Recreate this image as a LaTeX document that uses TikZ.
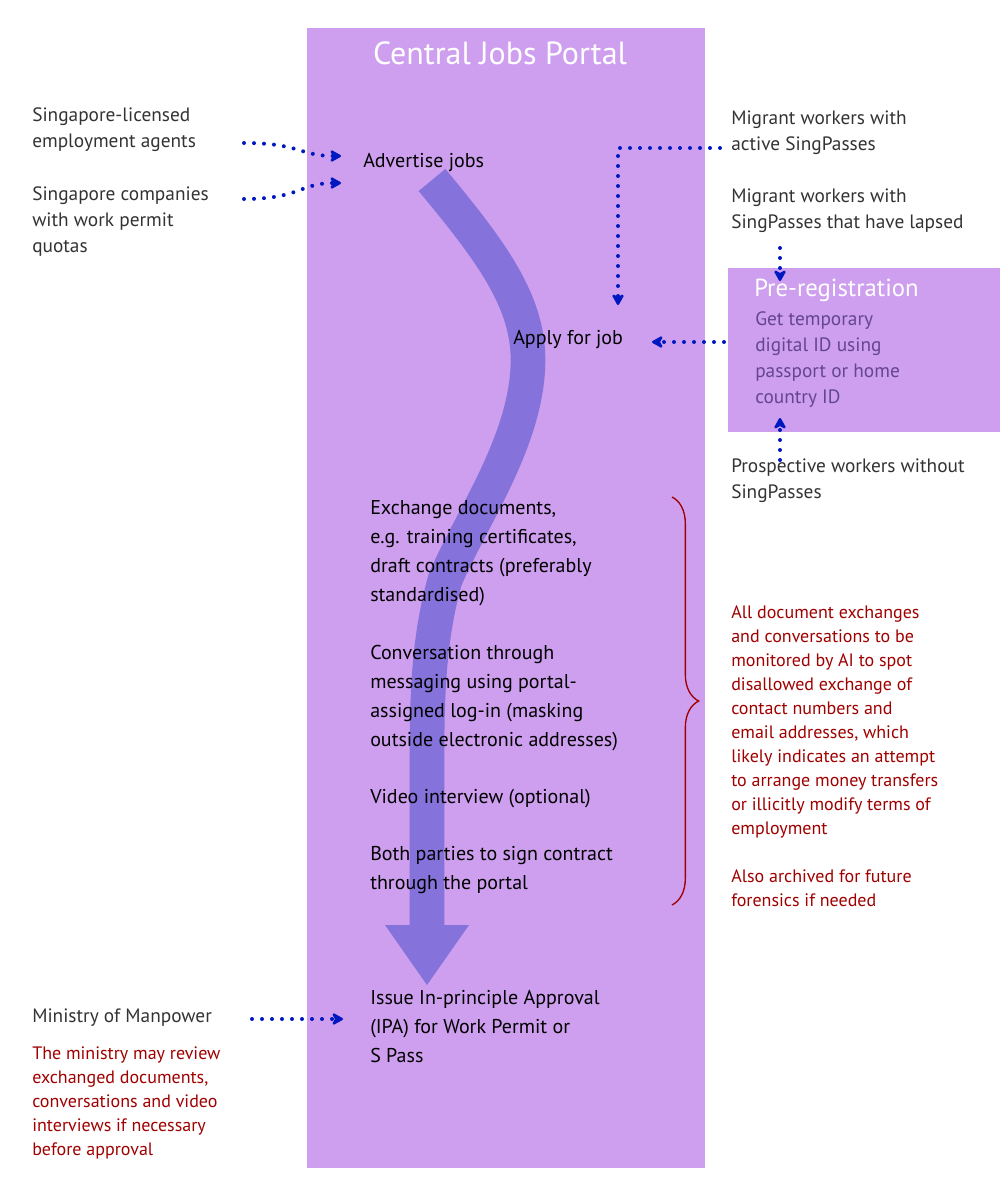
\documentclass[tikz,border=0pt]{standalone}
\usepackage{fontspec}
\setmainfont{PT Sans}
\usetikzlibrary{arrows.meta,decorations.pathreplacing}
\definecolor{portal}{RGB}{206,159,239}
\definecolor{band}{RGB}{133,115,219}
\definecolor{dotblue}{RGB}{0,24,192}
\definecolor{grayt}{RGB}{51,51,51}
\definecolor{redt}{RGB}{160,0,0}
\definecolor{pret}{RGB}{100,70,140}
\begin{document}
\begin{tikzpicture}[x=0.75pt,y=-0.75pt,
  dots/.style={dotblue,line width=3pt,line cap=round,dash pattern=on 0pt off 7.5pt,
     -{Stealth[length=10pt,width=11pt,inset=3pt,line cap=butt,round=false]}},
  body/.style={anchor=north west,inner sep=0pt,align=left,font=\fontsize{15}{21.75}\selectfont,text=black},
  side/.style={anchor=north west,inner sep=0pt,align=left,font=\fontsize{14.5}{19.5}\selectfont,text=grayt},
  red/.style={anchor=north west,inner sep=0pt,align=left,font=\fontsize{13.5}{18}\selectfont,text=redt}]
\useasboundingbox (0,0) rectangle (1000,1200);
\fill[portal] (307,28) rectangle (705,1168);
\fill[portal] (728,268) rectangle (1000,432);
% flow band
\draw[band,line width=26pt] (432,180) .. controls (490,250) and (528,300) .. (528,360)
  .. controls (528,440) and (470,520) .. (445,580)
  .. controls (428,640) and (427,700) .. (427,760) -- (427,926);
\fill[band] (385,925) -- (469,925) -- (427,985) -- cycle;
\node[font=\fontsize{24}{28}\selectfont,text=white] (title) at (500,53) {Central Jobs Portal};
\node[body] (adv) at (363,153) {Advertise jobs};
\node[body] (apply) at (513,330) {Apply for job};
\node[body] (exch) at (370,500) {Exchange documents,\\e.g. training certificates,\\draft contracts (preferably\\standardised)};
\node[body] (conv) at (370,645) {Conversation through\\messaging using portal-\\assigned log-in (masking\\outside electronic addresses)};
\node[body] (video) at (370,789) {Video interview (optional)};
\node[body] (sign) at (370,846) {Both parties to sign contract\\through the portal};
\node[body] (ipa) at (370,990) {Issue In-principle Approval\\(IPA) for Work Permit or\\S Pass};
\node[side] (agents) at (32,107) {Singapore-licensed\\employment agents};
\node[side] (comp) at (32,186) {Singapore companies\\with work permit\\quotas};
\node[side] (mom) at (32,1009) {Ministry of Manpower};
\node[red] (momr) at (32,1046) {The ministry may review\\exchanged documents,\\conversations and video\\interviews if necessary\\before approval};
\node[side] (active) at (731,111) {Migrant workers with\\active SingPasses};
\node[side] (lapsed) at (731,189) {Migrant workers with\\SingPasses that have lapsed};
\node[anchor=north west,inner sep=0pt,font=\fontsize{18.5}{22}\selectfont,text=white] (pre) at (754,279) {Pre-registration};
\node[anchor=north west,inner sep=0pt,align=left,font=\fontsize{14.5}{19.5}\selectfont,text=pret] (pret) at (755,311) {Get temporary\\digital ID using\\passport or home\\country ID};
\node[side] (prosp) at (731,459) {Prospective workers without\\SingPasses};
\node[red] (ai) at (731,605) {All document exchanges\\and conversations to be\\monitored by AI to spot\\disallowed exchange of\\contact numbers and\\email addresses, which\\likely indicates an attempt\\to arrange money transfers\\or illicitly modify terms of\\employment};
\node[red] (arch) at (731,869) {Also archived for future\\forensics if needed};
% connectors
\coordinate (a1) at (244,143); \coordinate (a1e) at (341,156);
\draw[dots] (a1) .. controls (300,143) and (300,156) .. (a1e);
\coordinate (c1) at (244,199); \coordinate (c1e) at (341,183);
\draw[dots] (c1) .. controls (300,199) and (300,183) .. (c1e);
\coordinate (m1) at (720,148); \coordinate (m1c) at (618,148); \coordinate (m1e) at (618,305);
\draw[dots] (m1) -- (m1c) -- (m1e);
\coordinate (l1) at (780,248); \coordinate (l1e) at (780,281);
\draw[dots] (l1) -- (l1e);
\coordinate (p1) at (724,342); \coordinate (p1e) at (652,342);
\draw[dots] (p1) -- (p1e);
\coordinate (q1) at (780,460); \coordinate (q1e) at (780,418);
\draw[dots] (q1) -- (q1e);
\coordinate (mo1) at (252,1019); \coordinate (mo1e) at (343,1019);
\draw[dots] (mo1) -- (mo1e);
% brace
\coordinate (b1) at (672,497); \coordinate (b2) at (672,905);
\draw[redt,line width=1pt,decoration={brace,amplitude=20pt}, decorate] (b1) -- (b2);
\end{tikzpicture}
\end{document}
